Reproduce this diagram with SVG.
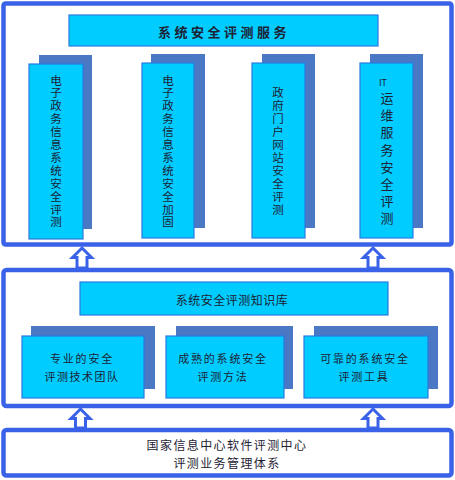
<svg xmlns="http://www.w3.org/2000/svg" width="455" height="480" viewBox="0 0 455 480">
<defs>
<style>
.frame{fill:#fff;stroke:#3a62e8;stroke-width:4.5}
.shadow{fill:#4a78c4}
.box{fill:#00ccff;stroke:#2a7ae0;stroke-width:1.2}
.t{font-family:"Noto Sans CJK SC","Noto Sans",sans-serif;fill:#1e2233;text-anchor:middle}
.v{font-size:11.5px}
.arrow{fill:#fff;stroke:#3a62e8;stroke-width:3;stroke-linejoin:miter}
</style>
</defs>
<g id="frame-service"><rect class="frame" x="3.5" y="3.5" width="448" height="241" rx="2"/></g>
<g id="frame-knowledge"><rect class="frame" x="3.5" y="270" width="448" height="136" rx="3"/></g>
<g id="frame-center"><rect class="frame" x="3.5" y="430" width="448" height="45.5" rx="3"/>
<text class="t" x="227" y="450" font-size="12" letter-spacing="1.4">国家信息中心软件评测中心</text>
<text class="t" x="227" y="467.5" font-size="12" letter-spacing="1.4">评测业务管理体系</text></g>

<g id="title-service"><rect class="box" x="69" y="15" width="309" height="31"/>
<text class="t" x="224" y="36.5" font-size="13" font-weight="bold" letter-spacing="3.5">系统安全评测服务</text></g>

<g id="node-a"><rect class="shadow" x="39" y="55" width="53" height="174"/><rect class="box" x="29" y="64" width="54" height="175"/>
<text class="t v"><tspan x="56" y="84.5">电</tspan><tspan x="56" dy="12.9">子</tspan><tspan x="56" dy="12.9">政</tspan><tspan x="56" dy="12.9">务</tspan><tspan x="56" dy="12.9">信</tspan><tspan x="56" dy="12.9">息</tspan><tspan x="56" dy="12.9">系</tspan><tspan x="56" dy="12.9">统</tspan><tspan x="56" dy="12.9">安</tspan><tspan x="56" dy="12.9">全</tspan><tspan x="56" dy="12.9">评</tspan><tspan x="56" dy="12.9">测</tspan></text></g>

<g id="node-b"><rect class="shadow" x="151" y="54" width="54" height="174"/><rect class="box" x="142" y="63" width="52" height="175"/>
<text class="t v"><tspan x="168" y="84.5">电</tspan><tspan x="168" dy="12.9">子</tspan><tspan x="168" dy="12.9">政</tspan><tspan x="168" dy="12.9">务</tspan><tspan x="168" dy="12.9">信</tspan><tspan x="168" dy="12.9">息</tspan><tspan x="168" dy="12.9">系</tspan><tspan x="168" dy="12.9">统</tspan><tspan x="168" dy="12.9">安</tspan><tspan x="168" dy="12.9">全</tspan><tspan x="168" dy="12.9">加</tspan><tspan x="168" dy="12.9">固</tspan></text></g>

<g id="node-c"><rect class="shadow" x="262" y="54" width="53" height="174"/><rect class="box" x="252" y="63" width="53" height="175"/>
<text class="t v"><tspan x="278" y="96.5">政</tspan><tspan x="278" dy="13.1">府</tspan><tspan x="278" dy="13.1">门</tspan><tspan x="278" dy="13.1">户</tspan><tspan x="278" dy="13.1">网</tspan><tspan x="278" dy="13.1">站</tspan><tspan x="278" dy="13.1">安</tspan><tspan x="278" dy="13.1">全</tspan><tspan x="278" dy="13.1">评</tspan><tspan x="278" dy="13.1">测</tspan></text></g>

<g id="node-d"><rect class="shadow" x="370" y="54" width="53" height="174"/><rect class="box" x="360" y="63" width="53" height="175"/>
<text class="t" x="383" y="86" font-size="9">IT</text>
<text class="t" font-size="13"><tspan x="387" y="103">运</tspan><tspan x="387" dy="17.2">维</tspan><tspan x="387" dy="17.2">服</tspan><tspan x="387" dy="17.2">务</tspan><tspan x="387" dy="17.2">安</tspan><tspan x="387" dy="17.2">全</tspan><tspan x="387" dy="17.2">评</tspan><tspan x="387" dy="17.2">测</tspan></text></g>

<g id="title-knowledge"><rect class="box" x="80" y="282" width="308" height="33"/>
<text class="t" x="232" y="304.5" font-size="12" letter-spacing="0.5">系统安全评测知识库</text></g>

<g id="node-team"><rect class="shadow" x="31" y="326" width="124" height="63"/><rect class="box" x="22" y="336" width="122" height="62"/>
<text class="t" x="82" y="363" font-size="11" letter-spacing="1.8">专业的安全</text>
<text class="t" x="82" y="380.5" font-size="11" letter-spacing="1.5">评测技术团队</text></g>

<g id="node-method"><rect class="shadow" x="176" y="326" width="117" height="63"/><rect class="box" x="166" y="336" width="118" height="62"/>
<text class="t" x="223" y="363" font-size="11" letter-spacing="1.8">成熟的系统安全</text>
<text class="t" x="223" y="380.5" font-size="11" letter-spacing="1.8">评测方法</text></g>

<g id="node-tool"><rect class="shadow" x="314" y="326" width="124" height="63"/><rect class="box" x="304" y="336" width="124" height="62"/>
<text class="t" x="365" y="363" font-size="11" letter-spacing="1.8">可靠的系统安全</text>
<text class="t" x="364" y="380.5" font-size="11" letter-spacing="1.8">评测工具</text></g>

<g id="connectors">
<path class="arrow" d="M82,248 L91.5,257.5 L87,257.5 L87,268 L77,268 L77,257.5 L72.5,257.5 Z"/>
<path class="arrow" d="M373,248 L382.5,257.5 L378,257.5 L378,268 L368,268 L368,257.5 L363.5,257.5 Z"/>
<path class="arrow" d="M80.5,409 L90,418.5 L85.5,418.5 L85.5,428 L75.5,428 L75.5,418.5 L71,418.5 Z"/>
<path class="arrow" d="M373,409 L382.5,418.5 L378,418.5 L378,428 L368,428 L368,418.5 L363.5,418.5 Z"/>
</g>
</svg>
